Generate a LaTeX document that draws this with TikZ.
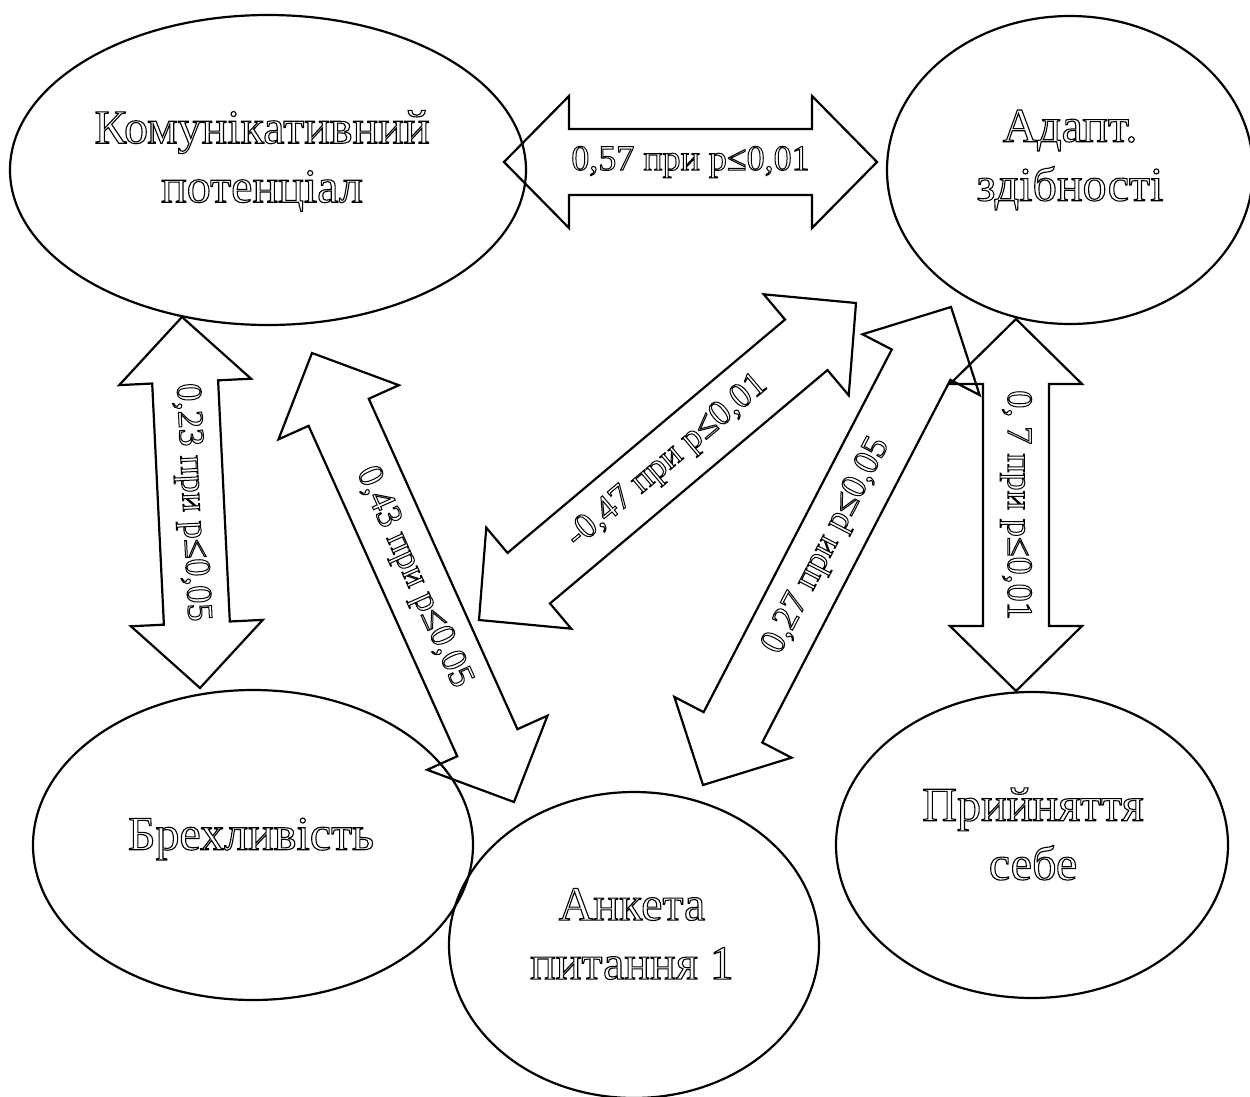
\documentclass[tikz,border=0pt]{standalone}
\usepackage{fontspec}
\setmainfont{Liberation Serif}
\usetikzlibrary{shapes.geometric,calc}
\newcommand\outltxt[2][1.1]{\special{pdf:literal direct 1 Tr #1 w}#2\special{pdf:literal direct 0 Tr}}
\newcommand\dblarr[2]{%
  \draw[arrline] (#1)
    -- ($(#1)!65pt!(#2)!66pt!90:(#2)$)
    -- ($(#1)!65pt!(#2)!33pt!90:(#2)$)
    -- ($(#2)!65pt!(#1)!33pt!-90:(#1)$)
    -- ($(#2)!65pt!(#1)!66pt!-90:(#1)$)
    -- (#2)
    -- ($(#2)!65pt!(#1)!66pt!90:(#1)$)
    -- ($(#2)!65pt!(#1)!33pt!90:(#1)$)
    -- ($(#1)!65pt!(#2)!33pt!-90:(#2)$)
    -- ($(#1)!65pt!(#2)!66pt!-90:(#2)$)
    -- cycle;}
\begin{document}
\begin{tikzpicture}[x=1pt,y=-1pt,
  ell/.style={draw, ellipse, line width=2.2pt, inner sep=0pt},
  arrline/.style={draw, line width=2.2pt, line join=miter},
  txt/.style={font=\fontsize{48}{59}\selectfont, align=center, inner sep=0pt},
  lab/.style={font=\fontsize{36}{40}\selectfont, inner sep=0pt}]
\useasboundingbox (0,0) rectangle (1250,1097);
% ellipses
\node[ell, minimum width=516pt, minimum height=310pt] (kom) at (268,170) {};
\node[ell, minimum width=366pt, minimum height=308pt] (adapt) at (1070,170) {};
\node[ell, minimum width=440pt, minimum height=310pt] (breh) at (253,845) {};
\node[ell, minimum width=370pt, minimum height=306pt] (ank) at (634,945) {};
\node[ell, minimum width=392pt, minimum height=306pt] (pry) at (1032,845) {};
% ellipse texts
\node[txt] (komt) at (262,161) {\outltxt{Комунікативний\\потенціал}};
\node[txt] (adaptt) at (1070,160) {\outltxt{Адапт.\\здібності}};
\node[txt] (breht) at (251,839) {\outltxt{Брехливість}};
\node[txt] (ankt) at (632,934) {\outltxt{Анкета\\питання 1}};
\node[txt] (pryt) at (1033,834) {\outltxt{Прийняття\\себе}};
% arrow end points
\coordinate (a1) at (504,162);  \coordinate (a2) at (877,162);
\coordinate (b1) at (182,317);  \coordinate (b2) at (200,688);
\coordinate (c1) at (312,353);  \coordinate (c2) at (514,802);
\coordinate (d1) at (479,620);  \coordinate (d2) at (856,303);
\coordinate (e1) at (703,785);  \coordinate (e2) at (951,307);
\coordinate (f1) at (1016,319); \coordinate (f2) at (1016,691);
\dblarr{a1}{a2}
\dblarr{b1}{b2}
\dblarr{c1}{c2}
\dblarr{d1}{d2}
\dblarr{e1}{e2}
\dblarr{f1}{f2}
% labels
\node[lab] (la) at ($(a1)!0.5!(a2)$) {\outltxt[1]{0,57 при р≤0,01}};
\node[lab, rotate=-87.2] (lb) at ($(b1)!0.5!(b2)$) {\outltxt[1]{0,23 при р≤0,05}};
\node[lab, rotate=-65.8] (lc) at ($(c1)!0.5!(c2)$) {\outltxt[1]{0,43 при р≤0,05}};
\node[lab, rotate=40.06] (ld) at ($(d1)!0.5!(d2)$) {\outltxt[1]{-0,47 при р≤0,01}};
\node[lab, rotate=62.6] (le) at ($(e1)!0.5!(e2)$) {\outltxt[1]{0,27 при р≤0,05}};
\node[lab, rotate=-90] (lf) at ($(f1)!0.5!(f2)$) {\outltxt[1]{0, 7 при р≤0,01}};
\end{tikzpicture}
\end{document}
